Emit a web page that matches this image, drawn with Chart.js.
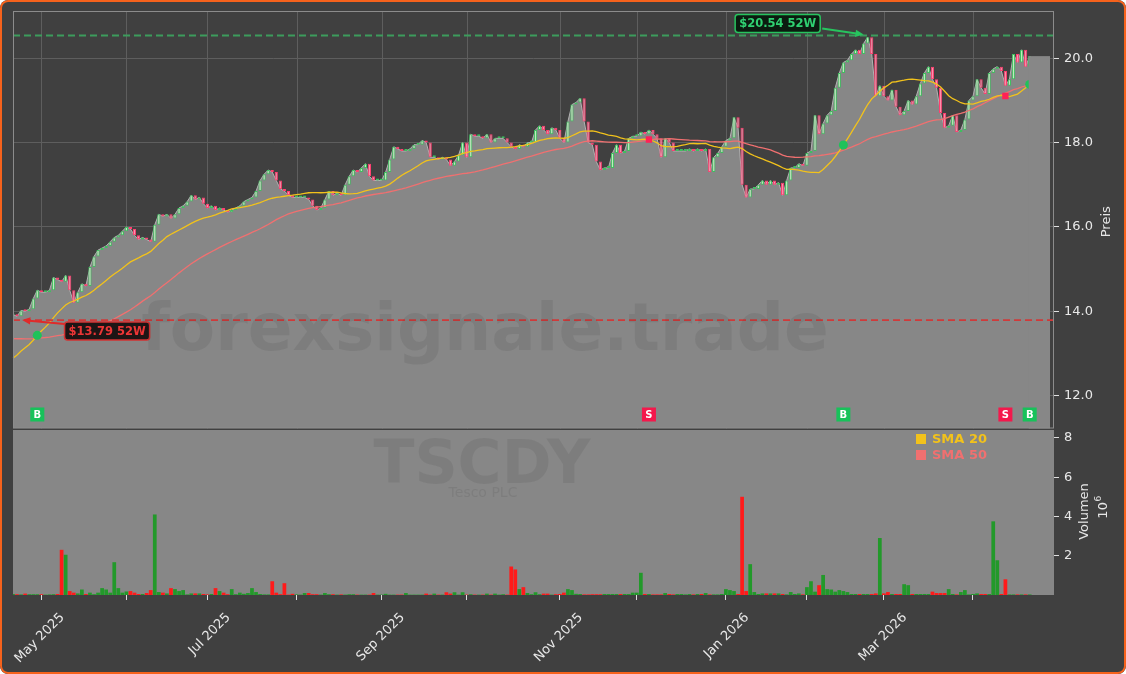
<!DOCTYPE html>
<html>
<head>
<meta charset="utf-8">
<script src="https://cdn.jsdelivr.net/npm/chart.js@4.4.1/dist/chart.umd.min.js"></script>
<style>
html, body { margin: 0; padding: 0; background: #ffffff; }
#wrap { position: relative; width: 1126px; height: 674px; background: #404040; overflow: hidden; border-radius: 8px; font-family: "DejaVu Sans", sans-serif; }
#frame { position: absolute; left: 0; top: 0; width: 1126px; height: 674px; box-sizing: border-box; border: 2px solid #f6621c; border-radius: 8px; pointer-events: none; }
canvas { position: absolute; left: 0; }
.wm { position: absolute; pointer-events: none; white-space: nowrap; transform: translate(-50%, -50%); color: rgba(30, 30, 30, 0.09); }
.legend { position: absolute; left: 916px; top: 431px; font-weight: bold; font-size: 13px; line-height: 16px; }
.legend .sq { display: inline-block; width: 10px; height: 10px; margin-right: 6px; vertical-align: -1px; }
</style>
</head>
<body>
<div id="wrap">
  <canvas id="price" width="1126" height="433" style="top:0"></canvas>
  <canvas id="volume" width="1126" height="245" style="top:429px"></canvas>
  <div class="wm" style="left:485px; top:327px; font-size:66px; font-weight:bold;">forexsignale.trade</div>
  <div class="wm" style="left:482px; top:462px; font-size:60px; font-weight:bold;">TSCDY</div>
  <div class="wm" style="left:483px; top:492px; font-size:14px;">Tesco PLC</div>
  <div class="legend">
    <div style="color:#f2c21b"><span class="sq" style="background:#f2c21b"></span>SMA 20</div>
    <div style="color:#f07070"><span class="sq" style="background:#f07070"></span>SMA 50</div>
  </div>
  <div id="frame"></div>
</div>
<script>
// trading calendar shown on the x axis
const FirstDay = '2025-04-22'
const LastDay = '2026-04-30'
const Holidays = ['2025-05-26', '2025-06-19', '2025-07-04', '2025-09-01', '2025-11-27', '2025-12-25',
    '2026-01-01', '2026-01-19', '2026-02-16', '2026-04-03']
const MonthNames = ['Jan', 'Feb', 'Mar', 'Apr', 'May', 'Jun', 'Jul', 'Aug', 'Sep', 'Oct', 'Nov', 'Dec']
const LabelMonths = [4, 6, 8, 10, 0, 2]

// closes before the visible window (only used for the moving averages)
const PreCloses = [14.0, 14.1, 14.0, 14.1, 14.2, 14.0, 13.9, 14.0, 14.1, 14.0, 13.9, 14.0,
    13.9, 13.8, 13.8, 13.7, 13.6, 13.7, 13.6, 13.5, 13.5, 13.4, 13.5, 13.4, 13.3, 13.4, 13.3, 13.2, 13.3, 13.1,
    12.6, 12.3, 12.2, 12.4, 12.5, 12.3, 12.2, 12.4, 12.6, 12.5, 12.3, 12.5,
    12.8, 13.0, 13.3, 13.5, 13.6, 13.7, 13.8, 13.9]

// daily closes in USD
const Closes = [
    13.92, 13.88, 14.02, 14.0, 14.05, 14.3, 14.5, 14.45, 14.45, 14.5,
    14.8, 14.75, 14.7, 14.85, 14.5, 14.2, 14.45, 14.65, 14.6, 15.05,
    15.3, 15.45, 15.5, 15.55, 15.65, 15.75, 15.8, 15.9, 16.0, 15.95,
    15.8, 15.7, 15.75, 15.7, 15.65, 16.05, 16.3, 16.25, 16.3, 16.2,
    16.3, 16.45, 16.5, 16.6, 16.75, 16.65, 16.7, 16.55, 16.45, 16.5,
    16.4, 16.45, 16.4, 16.35, 16.4, 16.45, 16.5, 16.6, 16.65, 16.7,
    16.85, 17.1, 17.25, 17.35, 17.3, 17.1, 16.9, 16.85, 16.75, 16.7,
    16.7, 16.7, 16.7, 16.65, 16.5, 16.4, 16.45, 16.65, 16.85, 16.75,
    16.8, 16.75, 17.0, 17.2, 17.35, 17.3, 17.4, 17.5, 17.2, 17.1,
    17.1, 17.1, 17.3, 17.6, 17.9, 17.85, 17.8, 17.8, 17.85, 17.95,
    17.95, 18.05, 18.0, 17.65, 17.65, 17.6, 17.65, 17.6, 17.45, 17.55,
    17.7, 18.0, 17.65, 18.2, 18.15, 18.15, 18.1, 18.2, 18.0, 18.1,
    18.1, 18.1, 18.0, 17.9, 17.85, 17.95, 17.9, 18.0, 18.0, 18.3,
    18.4, 18.3, 18.2, 18.35, 18.3, 18.1, 18.0, 18.5, 18.9, 18.95,
    19.05, 18.5, 18.0, 17.95, 17.55, 17.35, 17.4, 17.4, 17.75, 17.95,
    17.75, 17.8, 18.1, 18.15, 18.15, 18.25, 18.2, 18.3, 18.2, 18.1,
    17.65, 18.1, 18.0, 17.8, 17.8, 17.8, 17.8, 17.85, 17.8, 17.85,
    17.8, 17.85, 17.3, 17.65, 17.75, 17.9, 18.05, 18.1, 18.6, 18.35,
    17.0, 16.7, 16.9, 16.9, 17.0, 17.1, 17.0, 17.1, 17.0, 17.05,
    16.75, 17.1, 17.4, 17.4, 17.5, 17.45, 17.75, 17.8, 18.65, 18.2,
    18.45, 18.65, 18.75, 19.3, 19.65, 19.9, 19.95, 20.1, 20.2, 20.1,
    20.35, 20.5, 20.1, 19.1, 19.35, 19.1, 19.0, 19.25, 18.85, 18.65,
    18.75, 19.0, 18.9, 19.1, 19.4, 19.65, 19.8, 19.5, 19.3, 18.7,
    18.35, 18.4, 18.65, 18.25, 18.3, 18.55, 19.0, 19.1, 19.5, 19.3,
    19.15, 19.65, 19.75, 19.8, 19.7, 19.35, 19.5, 20.1, 19.9, 20.2,
    19.8, 20.05
]

// daily volume in millions of shares
const Volumes = [
    0.05, 0.04, 0.03, 0.07, 0.04, 0.04, 0.04, 0.04, 0.02, 0.03,
    0.04, 0.05, 2.3, 2.05, 0.2, 0.12, 0.08, 0.28, 0.05, 0.12,
    0.04, 0.12, 0.35, 0.28, 0.12, 1.67, 0.35, 0.12, 0.18, 0.2,
    0.12, 0.05, 0.05, 0.1, 0.25, 4.1, 0.15, 0.12, 0.08, 0.35,
    0.3, 0.2, 0.25, 0.03, 0.08, 0.08, 0.08, 0.05, 0.03, 0.05,
    0.35, 0.2, 0.12, 0.04, 0.3, 0.04, 0.12, 0.06, 0.1, 0.35,
    0.15, 0.05, 0.03, 0.03, 0.7, 0.12, 0.04, 0.6, 0.02, 0.06,
    0.03, 0.02, 0.1, 0.1, 0.04, 0.04, 0.02, 0.1, 0.04, 0.04,
    0.02, 0.03, 0.02, 0.04, 0.04, 0.02, 0.02, 0.02, 0.02, 0.1,
    0.02, 0.02, 0.06, 0.02, 0.02, 0.02, 0.02, 0.1, 0.02, 0.02,
    0.02, 0.02, 0.07, 0.02, 0.07, 0.02, 0.02, 0.14, 0.07, 0.14,
    0.02, 0.14, 0.02, 0.04, 0.02, 0.02, 0.02, 0.07, 0.02, 0.07,
    0.02, 0.04, 0.02, 1.45, 1.3, 0.3, 0.4, 0.1, 0.04, 0.14,
    0.04, 0.07, 0.07, 0.02, 0.04, 0.05, 0.12, 0.3, 0.25, 0.06,
    0.05, 0.03, 0.03, 0.04, 0.04, 0.04, 0.05, 0.05, 0.05, 0.05,
    0.05, 0.05, 0.05, 0.12, 0.12, 1.13, 0.05, 0.05, 0.03, 0.03,
    0.03, 0.1, 0.05, 0.03, 0.05, 0.05, 0.03, 0.05, 0.03, 0.05,
    0.05, 0.1, 0.03, 0.03, 0.03, 0.05, 0.3, 0.25, 0.2, 0.05,
    5.0, 0.2, 1.57, 0.15, 0.05, 0.08, 0.08, 0.08, 0.08, 0.08,
    0.05, 0.03, 0.15, 0.05, 0.08, 0.03, 0.4, 0.7, 0.17, 0.5,
    1.02, 0.3, 0.28, 0.17, 0.25, 0.2, 0.15, 0.05, 0.05, 0.05,
    0.05, 0.05, 0.05, 0.08, 2.9, 0.08, 0.15, 0.05, 0.05, 0.05,
    0.55, 0.5, 0.05, 0.05, 0.05, 0.05, 0.05, 0.17, 0.1, 0.1,
    0.1, 0.3, 0.05, 0.03, 0.15, 0.25, 0.03, 0.05, 0.08, 0.05,
    0.05, 0.05, 3.75, 1.77, 0.05, 0.8, 0.03, 0.03, 0.03, 0.03,
    0.03, 0.03
]

// crossover signals (index into Closes)
const SignalIdx = [6, 157, 205, 245, 251]
const SignalKind = ['B', 'S', 'B', 'S', 'B']

// 52 week extremes
const High52 = 20.54
const High52Idx = 211
const Low52 = 13.79
const Low52Idx = 2

const PriceTicks = [12, 14, 16, 18, 20]
const PriceMin = 11.22
const PriceMax = 21.12
const VolumeTicks = [2, 4, 6, 8]
const VolumeMax = 8.4

Chart.defaults.font.family = '"DejaVu Sans", sans-serif'

function TradingDays(from, to) {
    let days = []
    let d = new Date(from + 'T12:00:00Z')
    let end = new Date(to + 'T12:00:00Z')
    while (d <= end) {
        let iso = d.toISOString().slice(0, 10)
        let wd = d.getUTCDay()
        if (wd !== 0 && wd !== 6 && !Holidays.includes(iso)) days.push(iso)
        d.setUTCDate(d.getUTCDate() + 1)
    }
    return days
}

function MovingAverage(all, n, offset, count) {
    let out = []
    for (let i = 0; i < count; i++) {
        let end = offset + i
        let sum = 0
        for (let k = end - n + 1; k <= end; k++) sum += all[k]
        out.push(sum / n)
    }
    return out
}

const Dates = TradingDays(FirstDay, LastDay)
const MonthStart = new Set()
for (let i = 1; i < Dates.length; i++) {
    if (Dates[i].slice(5, 7) !== Dates[i - 1].slice(5, 7)) MonthStart.add(i)
}

function TickLabel(i) {
    if (!MonthStart.has(i)) return ''
    let m = parseInt(Dates[i].slice(5, 7)) - 1
    if (!LabelMonths.includes(m)) return ''
    return MonthNames[m] + ' ' + Dates[i].slice(0, 4)
}

// keep the plot areas exactly where the panels sit
function FixVertical(s) {
    s.width = 72
    s.paddingTop = 0
    s.paddingBottom = 0
}

function FixHorizontal(height) {
    return function (s) {
        s.height = height
        s.paddingLeft = 0
        s.paddingRight = 0
    }
}

// y axis titles read bottom to top, like the right hand labels of the original
function SideTitle(ctx, text, x, y, sup) {
    ctx.save()
    ctx.translate(x, y)
    ctx.rotate(-Math.PI / 2)
    ctx.fillStyle = '#e6e6e6'
    ctx.font = '13px "DejaVu Sans"'
    ctx.textBaseline = 'middle'
    let w = ctx.measureText(text).width
    let sw = 0
    if (sup) {
        ctx.font = '9px "DejaVu Sans"'
        sw = ctx.measureText(sup).width
        ctx.font = '13px "DejaVu Sans"'
    }
    let x0 = -(w + sw) / 2
    ctx.textAlign = 'left'
    ctx.fillText(text, x0, 0)
    if (sup) {
        ctx.font = '9px "DejaVu Sans"'
        ctx.fillText(sup, x0 + w + 0.5, -5)
    }
    ctx.restore()
}

const AllCloses = PreCloses.concat(Closes)
const Sma20 = MovingAverage(AllCloses, 20, PreCloses.length, Closes.length)
const Sma50 = MovingAverage(AllCloses, 50, PreCloses.length, Closes.length)

const Opens = Closes.map((c, i) => i === 0 ? PreCloses[PreCloses.length - 1] : Closes[i - 1])
const Bodies = Closes.map((c, i) => [Opens[i], c])
const IsUp = Closes.map((c, i) => c >= Opens[i])

const SignalPoints = Closes.map(() => null)
SignalIdx.forEach(i => { SignalPoints[i] = Sma20[i] })
const SignalColor = i => SignalKind[SignalIdx.indexOf(i)] === 'S' ? '#ff2156' : '#1fc25a'

function Arrow(ctx, x1, y1, x2, y2, color) {
    let ang = Math.atan2(y2 - y1, x2 - x1)
    let h = 9
    ctx.strokeStyle = color
    ctx.fillStyle = color
    ctx.lineWidth = 2
    ctx.setLineDash([])
    ctx.beginPath()
    ctx.moveTo(x1, y1)
    ctx.lineTo(x2 - h * 0.8 * Math.cos(ang), y2 - h * 0.8 * Math.sin(ang))
    ctx.stroke()
    ctx.beginPath()
    ctx.moveTo(x2, y2)
    ctx.lineTo(x2 - h * Math.cos(ang - 0.42), y2 - h * Math.sin(ang - 0.42))
    ctx.lineTo(x2 - h * Math.cos(ang + 0.42), y2 - h * Math.sin(ang + 0.42))
    ctx.closePath()
    ctx.fill()
}

function TagBox(ctx, cx, cy, text, edge, fill, color) {
    ctx.font = 'bold 11.5px "DejaVu Sans"'
    let w = ctx.measureText(text).width + 8
    let h = 18
    ctx.setLineDash([])
    ctx.beginPath()
    ctx.roundRect(cx - w / 2, cy - h / 2, w, h, 3)
    ctx.fillStyle = fill
    ctx.fill()
    ctx.lineWidth = 1.5
    ctx.strokeStyle = edge
    ctx.stroke()
    ctx.fillStyle = color
    ctx.textAlign = 'center'
    ctx.textBaseline = 'middle'
    ctx.fillText(text, cx, cy + 0.5)
    return w
}

const PriceDecor = {
    id: 'priceDecor',
    beforeDatasetsDraw(chart) {
        // vertical month grid (the x axis itself is hidden on this panel)
        let ctx = chart.ctx
        let a = chart.chartArea
        let xs = chart.scales.x
        ctx.save()
        ctx.strokeStyle = '#5e5e5e'
        ctx.lineWidth = 1
        MonthStart.forEach(i => {
            let x = Math.round(xs.getPixelForValue(i)) + 0.5
            ctx.beginPath(); ctx.moveTo(x, a.top); ctx.lineTo(x, a.bottom); ctx.stroke()
        })
        ctx.restore()
    },
    afterDatasetsDraw(chart) {
        let ctx = chart.ctx
        let a = chart.chartArea
        let xs = chart.scales.x
        let ys = chart.scales.y
        ctx.save()

        // area keeps running at the last close up to the right edge
        let last = Closes.length - 1
        let lx = xs.getPixelForValue(last)
        let ly = ys.getPixelForValue(Closes[last])
        ctx.fillStyle = '#878787'
        ctx.fillRect(lx - 1, ly, a.right - 3 - lx, a.bottom - ly)

        // 52 week lines
        let yh = ys.getPixelForValue(High52)
        let yl = ys.getPixelForValue(Low52)
        ctx.lineWidth = 2
        ctx.setLineDash([7, 4])
        ctx.strokeStyle = '#3c9c5c'
        ctx.beginPath(); ctx.moveTo(a.left, yh); ctx.lineTo(a.right, yh); ctx.stroke()
        ctx.lineWidth = 1.8
        ctx.strokeStyle = '#d03a3a'
        ctx.beginPath(); ctx.moveTo(a.left, yl); ctx.lineTo(a.right, yl); ctx.stroke()

        let xh = xs.getPixelForValue(High52Idx)
        let w1 = TagBox(ctx, xh - 90, yh - 12, '$' + High52.toFixed(2) + ' 52W', '#27c45e', '#0b1c10', '#2fd071')
        Arrow(ctx, xh - 90 + w1 / 2 + 2, yh - 7, xh - 4, yh - 1, '#27c45e')

        let xl = xs.getPixelForValue(Low52Idx)
        let w2 = TagBox(ctx, xl + 86, yl + 11, '$' + Low52.toFixed(2) + ' 52W', '#d33232', '#1d1515', '#ec3636')
        Arrow(ctx, xl + 86 - w2 / 2, yl + 4, xl + 1, yl, '#e02a2a')

        // buy / sell tags along the bottom
        ctx.font = 'bold 10px "DejaVu Sans"'
        ctx.textAlign = 'center'
        ctx.textBaseline = 'middle'
        SignalIdx.forEach((idx, k) => {
            let x = xs.getPixelForValue(idx)
            let y = a.bottom - 14
            ctx.fillStyle = SignalKind[k] === 'S' ? '#f4184c' : '#17c25a'
            ctx.fillRect(x - 7, y - 7, 14, 14)
            ctx.fillStyle = '#ffffff'
            ctx.fillText(SignalKind[k], x, y + 0.5)
        })
        ctx.restore()
    },
    afterDraw(chart) {
        let ctx = chart.ctx
        let a = chart.chartArea
        ctx.save()
        ctx.strokeStyle = '#8c8c8c'
        ctx.lineWidth = 1
        ctx.strokeRect(a.left + 0.5, a.top + 0.5, a.right - a.left - 1, a.bottom - a.top - 1)
        ctx.restore()
        SideTitle(ctx, 'Preis', 1107, (a.top + a.bottom) / 2 + 2)
    }
}

const VolumeDecor = {
    id: 'volumeDecor',
    beforeDraw(chart) {
        let ctx = chart.ctx
        let a = chart.chartArea
        ctx.save()
        ctx.fillStyle = '#878787'
        ctx.fillRect(a.left, a.top, a.right - a.left, a.bottom - a.top)
        ctx.restore()
    },
    afterDraw(chart) {
        let ctx = chart.ctx
        let a = chart.chartArea
        let mid = (a.top + a.bottom) / 2
        SideTitle(ctx, 'Volumen', 1085, mid - 1)
        SideTitle(ctx, '10', 1104, mid - 5, '6')
    }
}

const PriceChart = new Chart(document.getElementById('price'), {
    data: {
        labels: Dates,
        datasets: [{
            type: 'line',
            label: 'Close',
            data: Closes,
            borderColor: '#b3b3b3',
            borderWidth: 1,
            backgroundColor: '#878787',
            fill: 'start',
            pointRadius: 0,
            order: 5
        }, {
            type: 'bar',
            label: 'Candles',
            data: Bodies,
            backgroundColor: IsUp.map(u => u ? '#bdeebd' : '#ff8fab'),
            borderColor: IsUp.map(u => u ? '#3fbf5f' : '#ff3f70'),
            borderWidth: 1,
            borderSkipped: false,
            barPercentage: 0.78,
            categoryPercentage: 1,
            minBarLength: 2,
            order: 3
        }, {
            type: 'line',
            label: 'SMA 20',
            data: Sma20,
            borderColor: '#f2c21b',
            borderWidth: 1.3,
            pointRadius: 0,
            order: 2
        }, {
            type: 'line',
            label: 'SMA 50',
            data: Sma50,
            borderColor: '#f07070',
            borderWidth: 1.3,
            pointRadius: 0,
            order: 2
        }, {
            type: 'line',
            label: 'Signals',
            data: SignalPoints,
            showLine: false,
            pointRadius: 4.5,
            pointBorderWidth: 0,
            pointStyle: c => SignalKind[SignalIdx.indexOf(c.dataIndex)] === 'S' ? 'rect' : 'circle',
            pointBackgroundColor: c => SignalColor(c.dataIndex),
            order: 0
        }]
    },
    options: {
        responsive: false,
        animation: false,
        devicePixelRatio: 1,
        layout: { padding: { left: 13, top: 11, right: 0, bottom: 1 } },
        plugins: { legend: { display: false }, tooltip: { enabled: false } },
        scales: {
            x: {
                type: 'category',
                display: false,
                offset: false,
                grid: { offset: false }
            },
            y: {
                position: 'right',
                min: PriceMin,
                max: PriceMax,
                afterBuildTicks(s) { s.ticks = PriceTicks.map(v => ({ value: v })) },
                afterFit: FixVertical,
                grid: { color: '#5e5e5e', tickColor: '#e0e0e0', tickLength: 5 },
                border: { display: false },
                ticks: { color: '#e8e8e8', font: { size: 13 }, padding: 5, callback: v => v.toFixed(1) }
            }
        }
    },
    plugins: [PriceDecor]
})

const VolumeChart = new Chart(document.getElementById('volume'), {
    type: 'bar',
    data: {
        labels: Dates,
        datasets: [{
            label: 'Volumen',
            data: Volumes,
            backgroundColor: IsUp.map(u => u ? '#22992a' : '#ff1a1a'),
            barPercentage: 0.92,
            categoryPercentage: 1
        }]
    },
    options: {
        responsive: false,
        animation: false,
        devicePixelRatio: 1,
        layout: { padding: { left: 13, top: 1, right: 0, bottom: 0 } },
        plugins: { legend: { display: false }, tooltip: { enabled: false } },
        scales: {
            x: {
                offset: false,
                grid: {
                    offset: false,
                    drawOnChartArea: false,
                    tickLength: 5,
                    tickColor: c => MonthStart.has(c.index) ? '#e0e0e0' : 'rgba(0,0,0,0)'
                },
                border: { display: false },
                ticks: {
                    autoSkip: false,
                    minRotation: 45,
                    maxRotation: 45,
                    labelOffset: 21,
                    padding: 10,
                    color: '#e8e8e8',
                    font: { size: 13 },
                    callback: (v, i) => TickLabel(i)
                },
                afterFit: FixHorizontal(79)
            },
            y: {
                position: 'right',
                min: 0,
                max: VolumeMax,
                afterBuildTicks(s) { s.ticks = VolumeTicks.map(v => ({ value: v })) },
                afterFit: FixVertical,
                grid: { drawOnChartArea: false, tickColor: '#e0e0e0', tickLength: 5 },
                border: { display: false },
                ticks: { color: '#e8e8e8', font: { size: 13 }, padding: 5, callback: v => v.toFixed(0) }
            }
        }
    },
    plugins: [VolumeDecor]
})
</script>
</body>
</html>
